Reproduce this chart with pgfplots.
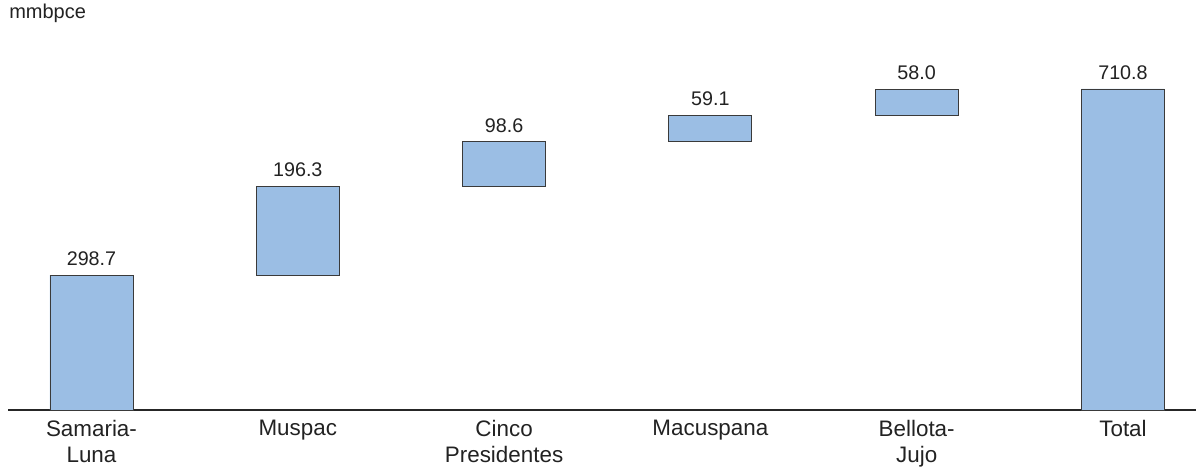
\documentclass[border=0pt]{standalone}
\usepackage{pgfplots}
\pgfplotsset{compat=1.18}
\usepackage{fontspec}
\setmainfont{Liberation Sans}
\definecolor{barfill}{HTML}{9BBEE4}
\definecolor{barline}{HTML}{3A3A3A}
\definecolor{txt}{HTML}{222222}
\pgfplotsset{common/.style={
  scale only axis,
  width=891pt, height=277.5pt,
  xmin=-0.4047, xmax=5.354,
  ymin=0, ymax=819.3,
  clip=false,
}}
\begin{document}
\begin{tikzpicture}
\begin{axis}[
  common,
  name=ax,
  ybar stacked,
  bar width=62.25pt,
  hide y axis,
  axis x line*=bottom,
  x axis line style={-, line width=1.5pt, color=black!85},
  xtick={0,1,2,3,4,5},
  xticklabels={{Samaria-\\Luna},{Muspac},{Cinco\\Presidentes},{Macuspana},{Bellota-\\Jujo},{Total}},
  xticklabel style={align=center, text=txt, font=\fontsize{16.8}{19.5}\selectfont, inner sep=0pt, yshift=-7.5pt},
  major tick length=0pt,
  xtick style={draw=none},
]
\addplot[draw=none, fill=none] coordinates {(0,0) (1,298.7) (2,495.0) (3,593.6) (4,652.7) (5,0)};
\addplot[fill=barfill, draw=barline, line width=0.7pt]
  coordinates {(0,298.7) (1,196.3) (2,98.6) (3,59.1) (4,58.0) (5,710.8)};
\end{axis}
\begin{axis}[
  common,
  hide axis,
]
\addplot[only marks, mark=none,
  nodes near coords, point meta=explicit symbolic,
  every node near coord/.append style={text=txt, font=\fontsize{14.8}{17}\selectfont, anchor=south, inner sep=0pt, yshift=7pt}]
  coordinates {(0,298.7)[298.7] (1,495.0)[196.3] (2,593.6)[98.6] (3,652.7)[59.1] (4,710.7)[58.0] (5,710.8)[710.8]};
\end{axis}
\node[anchor=base west, inner sep=0pt, text=txt, font=\fontsize{15}{18}\selectfont] at ([xshift=0.75pt, yshift=15.75pt]ax.north west) {mmbpce};
\pgfresetboundingbox
\path[use as bounding box] ([xshift=-6pt, yshift=-42.75pt]ax.south west) rectangle ([yshift=30pt]ax.north east);
\end{tikzpicture}
\end{document}
